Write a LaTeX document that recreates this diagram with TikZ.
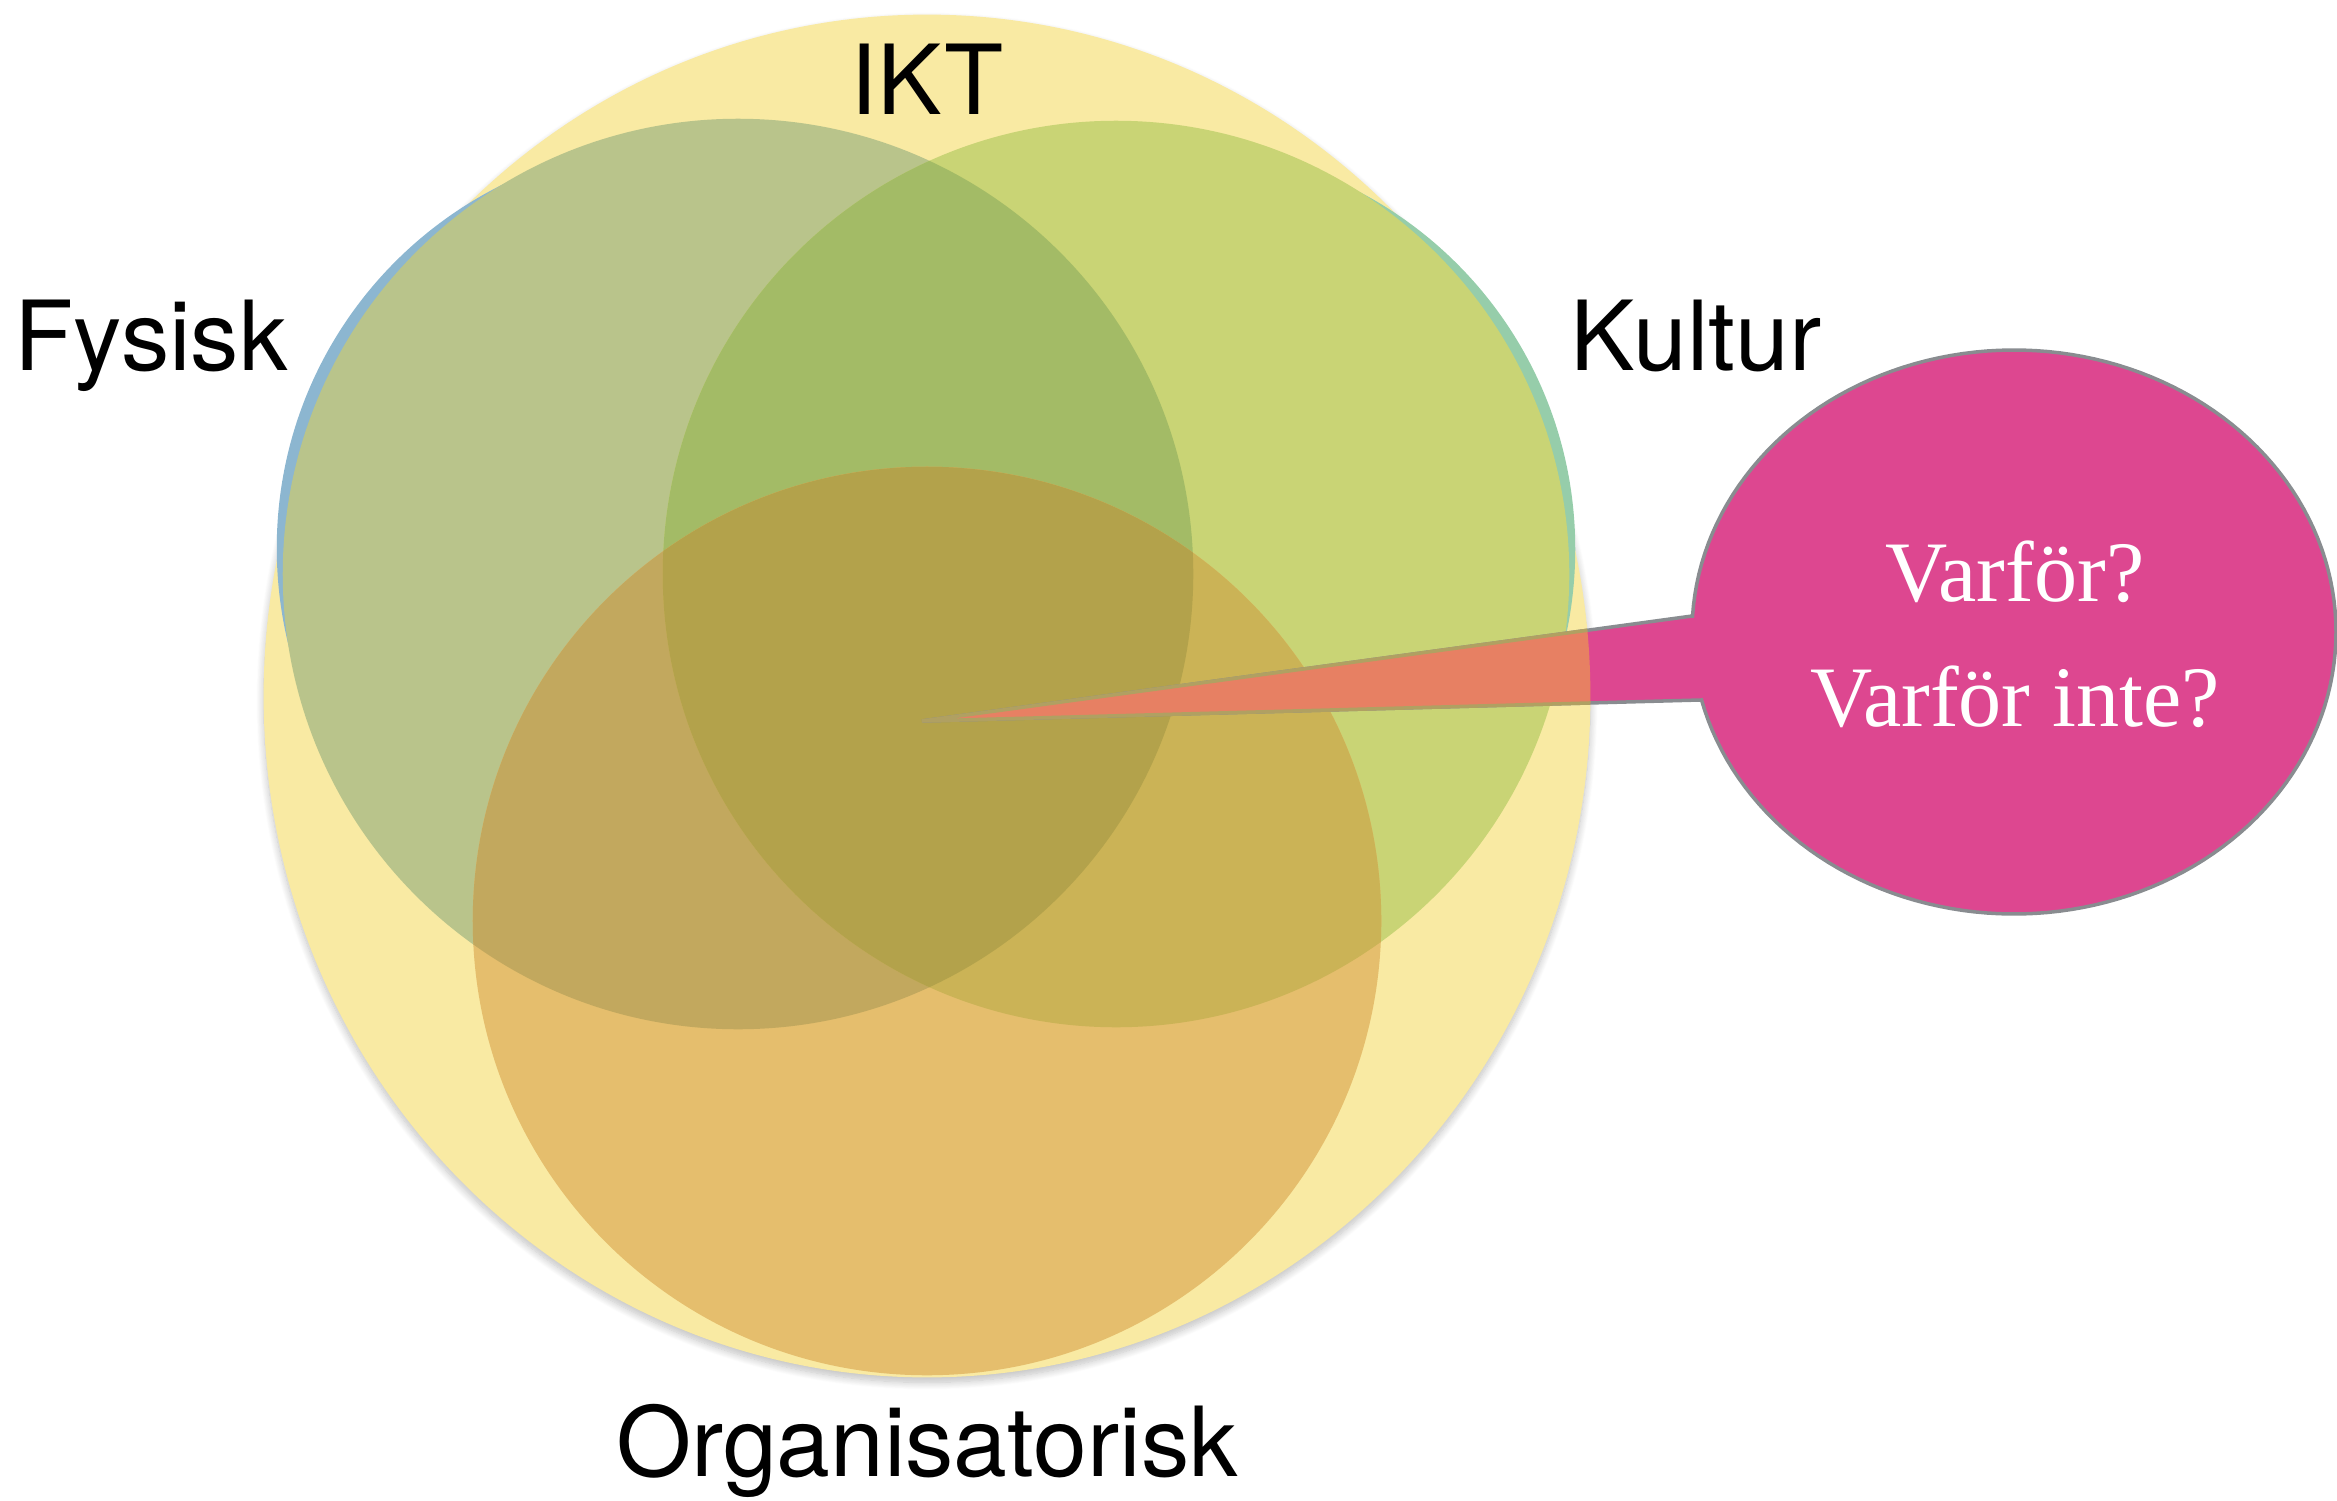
\documentclass[tikz,border=0pt]{standalone}
\usepackage{fontspec}
\setmainfont{TeX Gyre Heros}
\newfontfamily\callfont{Liberation Serif}
\usetikzlibrary{shadows.blur}
\definecolor{ikty}{HTML}{F9EAA3}
\definecolor{fys}{HTML}{B9C48B}
\definecolor{kul}{HTML}{C9D475}
\definecolor{fk}{HTML}{A3BB66}
\definecolor{org}{HTML}{E5BE6D}
\definecolor{of}{HTML}{C2A85E}
\definecolor{ok}{HTML}{CBB356}
\definecolor{ofk}{HTML}{B3A24B}
\definecolor{fblue}{HTML}{8CB6D0}
\definecolor{kteal}{HTML}{96CDAA}
\definecolor{callm}{HTML}{DD4790}
\definecolor{callb}{HTML}{898C90}
\definecolor{tails}{HTML}{E78063}
\definecolor{tailb}{HTML}{B0A062}
\tikzset{
  lbl/.style={inner sep=0pt, anchor=base, font=\fontsize{27.5}{33}\selectfont},
  calltxt/.style={inner sep=0pt, anchor=base, text=white, font=\callfont\fontsize{24.5}{30}\selectfont},
}
\begin{document}
\begin{tikzpicture}[x=0.01cm, y=-0.01cm]
\useasboundingbox (0,0) rectangle (2337,1500);
% big IKT circle
\fill[ikty, blur shadow={shadow xshift=0cm, shadow yshift=-0.05cm, shadow blur steps=12, shadow opacity=25}] (927,696) ellipse[x radius=6.63cm, y radius=6.81cm];
% back slivers
\fill[fblue] (682,548) circle[radius=4.05cm];
\fill[kteal] (1172,549) circle[radius=4.03cm];
% Fysisk and Kultur
\fill[fys] (738,574) circle[radius=4.55cm];
\fill[kul] (1116,574) circle[radius=4.53cm];
\begin{scope}
  \clip (738,574) circle[radius=4.55cm];
  \fill[fk] (1116,574) circle[radius=4.53cm];
\end{scope}
% Organisatorisk
\fill[org] (927,921) circle[radius=4.54cm];
\begin{scope}
  \clip (927,921) circle[radius=4.54cm];
  \fill[of] (738,574) circle[radius=4.55cm];
  \fill[ok] (1116,574) circle[radius=4.53cm];
  \clip (738,574) circle[radius=4.55cm];
  \fill[ofk] (1116,574) circle[radius=4.53cm];
\end{scope}
% callout
\coordinate (tip) at (922,721);
\coordinate (tu) at (1692,616);
\coordinate (tl) at (1700,700);
\draw[callm, fill=callm, draw=callb, line width=0.035cm, line join=miter]
  (tip) -- (tu) -- plot[domain=183.25:526.05, samples=160] ({2014+322*cos(\x)},{632+282*sin(\x)}) -- (tl) -- cycle;
\begin{scope}
  \clip (927,696) ellipse[x radius=6.63cm, y radius=6.81cm];
  \draw[fill=tails, draw=tailb, line width=0.035cm] (tip) -- (tu) -- (1760,605) -- (1760,702) -- (tl) -- cycle;
\end{scope}
% labels
\node[lbl] (ikt) at (927,115) {IKT};
\node[lbl] (fysisk) at (151,370) {Fysisk};
\node[lbl] (kultur) at (1696,370) {Kultur};
\node[lbl] (organ) at (927,1476) {Organisatorisk};
\node[calltxt] (q1) at (2015,601) {Varför?};
\node[calltxt] (q2) at (2015,726) {Varför inte?};
\end{tikzpicture}
\end{document}
